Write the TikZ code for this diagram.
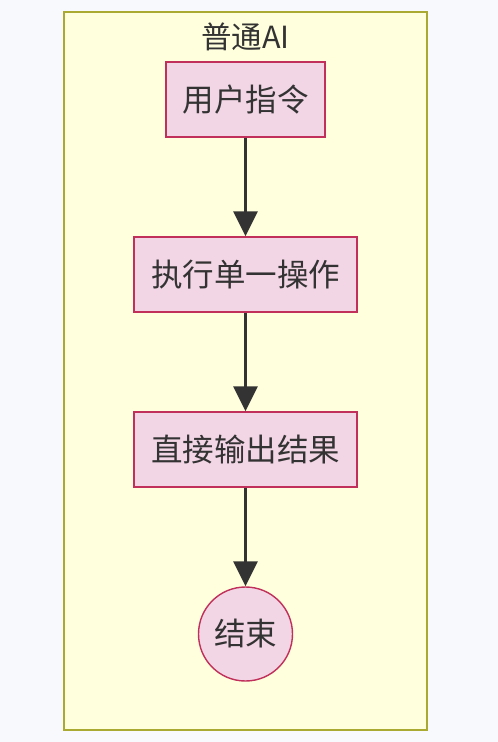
\documentclass[tikz,border=0pt]{standalone}
\usepackage{fontspec}
\setmainfont{Noto Sans CJK SC}
\usetikzlibrary{arrows.meta}
\definecolor{bg}{HTML}{F8F9FC}
\definecolor{clfill}{HTML}{FFFFDE}
\definecolor{clline}{HTML}{AAAA33}
\definecolor{nfill}{HTML}{F3D6E5}
\definecolor{nline}{HTML}{C0305A}
\definecolor{txt}{HTML}{333333}
\tikzset{
  stepbox/.style={draw=nline, fill=nfill, line width=1.4pt, minimum height=75pt, text=txt, font=\fontsize{31.5pt}{36pt}\selectfont, inner sep=0pt},
  endcircle/.style={circle, draw=nline, fill=nfill, line width=1.4pt, minimum size=94pt, text=txt, font=\fontsize{31.5pt}{36pt}\selectfont, inner sep=0pt},
  flow/.style={draw=txt, line width=3.2pt, -{Triangle[length=25pt, width=24pt]}}
}
\begin{document}
\begin{tikzpicture}[x=1pt, y=-1pt]
\fill[bg] (0,0) rectangle (498,742);
\useasboundingbox (0,0) rectangle (498,742);
\node[draw=clline, fill=clfill, line width=1.4pt, minimum width=363pt, minimum height=718pt, inner sep=0pt] (cluster) at (245.5,371) {};
\node[text=txt, font=\fontsize{30.5pt}{35pt}\selectfont] (title) at (245.5,37) {普通AI};
\node[stepbox, minimum width=159pt] (a) at (245.5,99.5) {用户指令};
\node[stepbox, minimum width=223pt] (b) at (245.5,274.5) {执行单一操作};
\node[stepbox, minimum width=223pt] (c) at (245.5,449.5) {直接输出结果};
\node[endcircle] (d) at (245.5,634) {结束};
\draw[flow] (a) -- (b);
\draw[flow] (b) -- (c);
\draw[flow] (c) -- (d);
\end{tikzpicture}
\end{document}
